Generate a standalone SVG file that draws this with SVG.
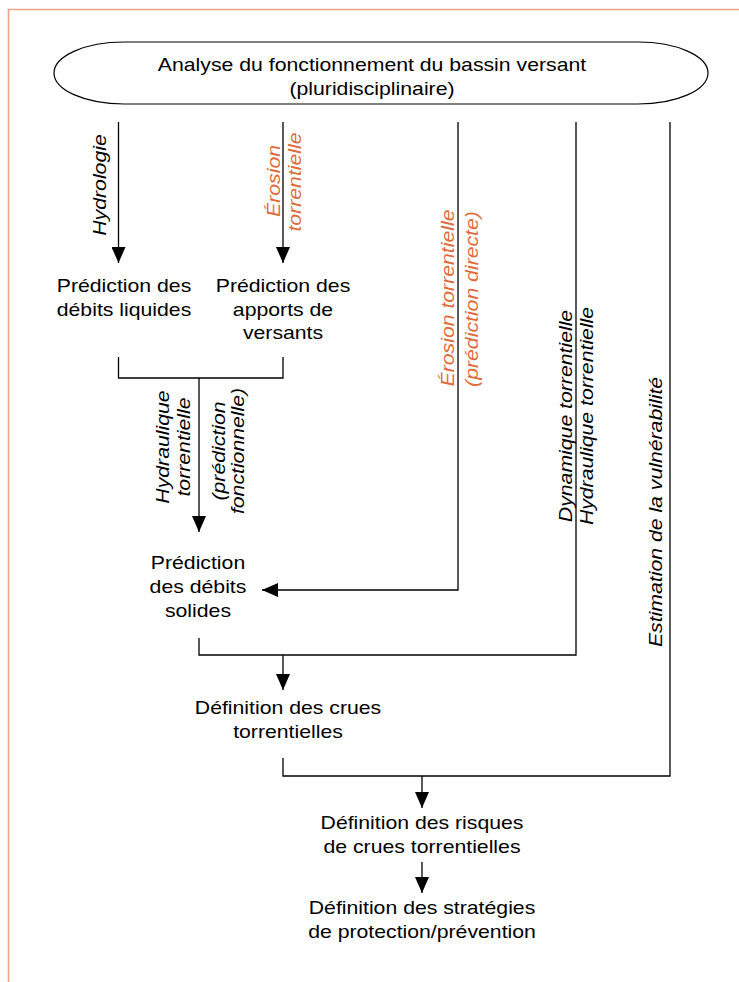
<svg xmlns="http://www.w3.org/2000/svg" width="739" height="982" viewBox="0 0 739 982">
<defs>
<style>
.t{font-family:"Liberation Sans",Arial,sans-serif;font-size:18px;fill:#000;text-anchor:middle}
.i{font-style:italic}
.o{fill:#e06a3a}
.c{fill:none;stroke:#000;stroke-width:1.3}
</style>
<marker id="ah" markerUnits="userSpaceOnUse" markerWidth="16" markerHeight="14" refX="16" refY="7" orient="auto">
<path d="M0,0 L16,7 L0,14 z" fill="#000"/>
</marker>
</defs>
<rect width="739" height="982" fill="#fff"/>
<path d="M8.5,982 V9.5 H739" fill="none" stroke="#f0a284" stroke-width="1.6"/>

<g id="connectors">
<path class="c" d="M118.5,122 V263" marker-end="url(#ah)"/>
<path class="c" d="M283,122 V263" marker-end="url(#ah)"/>
<path class="c" d="M118.5,357 V378 H283 V357"/>
<path class="c" d="M199,378 V532" marker-end="url(#ah)"/>
<path class="c" d="M458,122 V590 H262" marker-end="url(#ah)"/>
<path class="c" d="M576,122 V655 H199 V638"/>
<path class="c" d="M283,655 V690" marker-end="url(#ah)"/>
<path class="c" d="M670,122 V776 H283 V758"/>
<path class="c" d="M422,776 V808" marker-end="url(#ah)"/>
<path class="c" d="M422,862 V893" marker-end="url(#ah)"/>
</g>

<g id="edge-labels">
<text class="t i" transform="translate(106,185) rotate(-90) scale(1.18,1)">Hydrologie</text>
<text class="t i o" transform="translate(280,181) rotate(-90) scale(1.18,1)">Érosion</text>
<text class="t i o" transform="translate(301,182) rotate(-90) scale(1.18,1)">torrentielle</text>
<text class="t i" transform="translate(169,447) rotate(-90) scale(1.18,1)">Hydraulique</text>
<text class="t i" transform="translate(190,447) rotate(-90) scale(1.18,1)">torrentielle</text>
<text class="t i" transform="translate(225,451) rotate(-90) scale(1.18,1)">(prédiction</text>
<text class="t i" transform="translate(244,451) rotate(-90) scale(1.18,1)">fonctionnelle)</text>
<text class="t i o" transform="translate(454,298) rotate(-90) scale(1.18,1)">Érosion torrentielle</text>
<text class="t i o" transform="translate(478,299) rotate(-90) scale(1.18,1)">(prédiction directe)</text>
<text class="t i" transform="translate(572,416) rotate(-90) scale(1.18,1)">Dynamique torrentielle</text>
<text class="t i" transform="translate(593,416) rotate(-90) scale(1.18,1)">Hydraulique torrentielle</text>
<text class="t i" transform="translate(662,512) rotate(-90) scale(1.18,1)">Estimation de la vulnérabilité</text>
</g>

<g id="n-analyse">
<rect x="54" y="42" width="654" height="62" rx="70" ry="31" fill="#fff" stroke="#000" stroke-width="1.2"/>
<text class="t" transform="translate(372,71) scale(1.18,1)">Analyse du fonctionnement du bassin versant</text>
<text class="t" transform="translate(372,95) scale(1.18,1)">(pluridisciplinaire)</text>
</g>
<g id="n-debits-liquides">
<text class="t" transform="translate(124,292) scale(1.18,1)">Prédiction des</text>
<text class="t" transform="translate(124,316) scale(1.18,1)">débits liquides</text>
</g>
<g id="n-apports">
<text class="t" transform="translate(283,292) scale(1.18,1)">Prédiction des</text>
<text class="t" transform="translate(283,316) scale(1.18,1)">apports de</text>
<text class="t" transform="translate(283,339) scale(1.18,1)">versants</text>
</g>
<g id="n-debits-solides">
<text class="t" transform="translate(198,569) scale(1.18,1)">Prédiction</text>
<text class="t" transform="translate(198,593) scale(1.18,1)">des débits</text>
<text class="t" transform="translate(198,617) scale(1.18,1)">solides</text>
</g>
<g id="n-crues">
<text class="t" transform="translate(288,714) scale(1.18,1)">Définition des crues</text>
<text class="t" transform="translate(288,738) scale(1.18,1)">torrentielles</text>
</g>
<g id="n-risques">
<text class="t" transform="translate(422,829) scale(1.18,1)">Définition des risques</text>
<text class="t" transform="translate(422,853) scale(1.18,1)">de crues torrentielles</text>
</g>
<g id="n-strategies">
<text class="t" transform="translate(422,914) scale(1.18,1)">Définition des stratégies</text>
<text class="t" transform="translate(422,938) scale(1.18,1)">de protection/prévention</text>
</g>
</svg>
